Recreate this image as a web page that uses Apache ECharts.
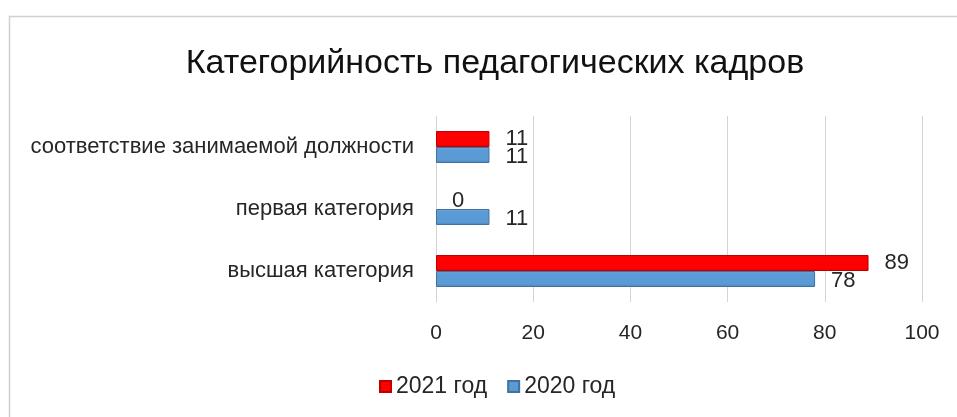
<!DOCTYPE html>
<html>
<head>
<meta charset="utf-8">
<script src="https://cdn.jsdelivr.net/npm/echarts@6/dist/echarts.min.js"></script>
<style>
  html, body { margin: 0; padding: 0; background: #fff; }
  #chart { width: 957px; height: 417px; }
</style>
</head>
<body>
<div id="chart"></div>
<script>
const categories = ['высшая категория', 'первая категория', 'соответствие занимаемой должности']
const values2020 = [78, 11, 11]
const values2021 = [89, 0, 11]
const xTicks = [0, 20, 40, 60, 80, 100]

const FONT = 'Liberation Sans'
const TEXT = '#262626'

const redFill = new echarts.graphic.LinearGradient(0, 0, 0, 1, [
  { offset: 0, color: '#e80000' },
  { offset: 0.15, color: '#ff0000' },
  { offset: 0.85, color: '#ff0000' },
  { offset: 1, color: '#d80000' },
])
const blueFill = new echarts.graphic.LinearGradient(0, 0, 0, 1, [
  { offset: 0, color: '#6aa5dc' },
  { offset: 0.2, color: '#5b9bd5' },
  { offset: 0.8, color: '#5b9bd5' },
  { offset: 1, color: '#4a86c0' },
])

// a zero-length bar shows nothing in the original, so drop its border
const hideZero = v => (v === 0 ? { value: v, itemStyle: { borderWidth: 0 } } : v)

const chart = echarts.init(document.getElementById('chart'))

chart.setOption({
  backgroundColor: '#fff',
  animation: false,
  title: {
    text: 'Категорийность педагогических кадров',
    left: 490,
    textAlign: 'center',
    top: 42,
    textStyle: { fontFamily: FONT, fontSize: 34, fontWeight: 'normal', color: '#111' },
  },
  graphic: [{
    type: 'rect',
    shape: { x: 9.5, y: 16.5, width: 1000, height: 500 },
    style: { fill: 'none', stroke: '#d0d0d0', lineWidth: 1.5 },
    silent: true,
  }],
  legend: {
    bottom: 14,
    left: 374,
    data: ['2021 год', '2020 год'],
    icon: 'rect',
    itemWidth: 11,
    itemHeight: 11,
    itemGap: 20,
    textStyle: { fontFamily: FONT, fontSize: 23, color: TEXT },
  },
  grid: { left: 436, right: 35, top: 116, bottom: 115 },
  xAxis: {
    type: 'value',
    min: xTicks[0],
    max: xTicks[xTicks.length - 1],
    interval: 20,
    axisLine: { show: false },
    axisTick: { show: false },
    splitLine: { lineStyle: { color: '#d4d4d4', width: 1 } },
    axisLabel: {
      fontFamily: FONT, fontSize: 21, color: TEXT, margin: 21,
      formatter: v => xTicks.includes(v) ? String(v) : '',
    },
  },
  yAxis: {
    type: 'category',
    data: categories,
    axisLine: { show: true, lineStyle: { color: '#d4d4d4' } },
    axisTick: { show: false },
    axisLabel: { fontFamily: FONT, fontSize: 22, color: TEXT, margin: 22 },
  },
  series: [
    {
      name: '2021 год',
      type: 'bar',
      data: values2021.map(hideZero),
      barWidth: 16,
      barGap: '0%',
      itemStyle: { color: redFill, borderColor: '#c00000', borderWidth: 1 },
      label: {
        show: true, position: 'right', distance: 16,
        fontFamily: FONT, fontSize: 22, color: TEXT,
      },
    },
    {
      name: '2020 год',
      type: 'bar',
      data: values2020.map(hideZero),
      barWidth: 16,
      barGap: '0%',
      itemStyle: { color: blueFill, borderColor: '#41719c', borderWidth: 1 },
      label: {
        show: true, position: 'right', distance: 16, offset: [0, 2],
        fontFamily: FONT, fontSize: 22, color: TEXT,
      },
    },
  ],
})
</script>
</body>
</html>
